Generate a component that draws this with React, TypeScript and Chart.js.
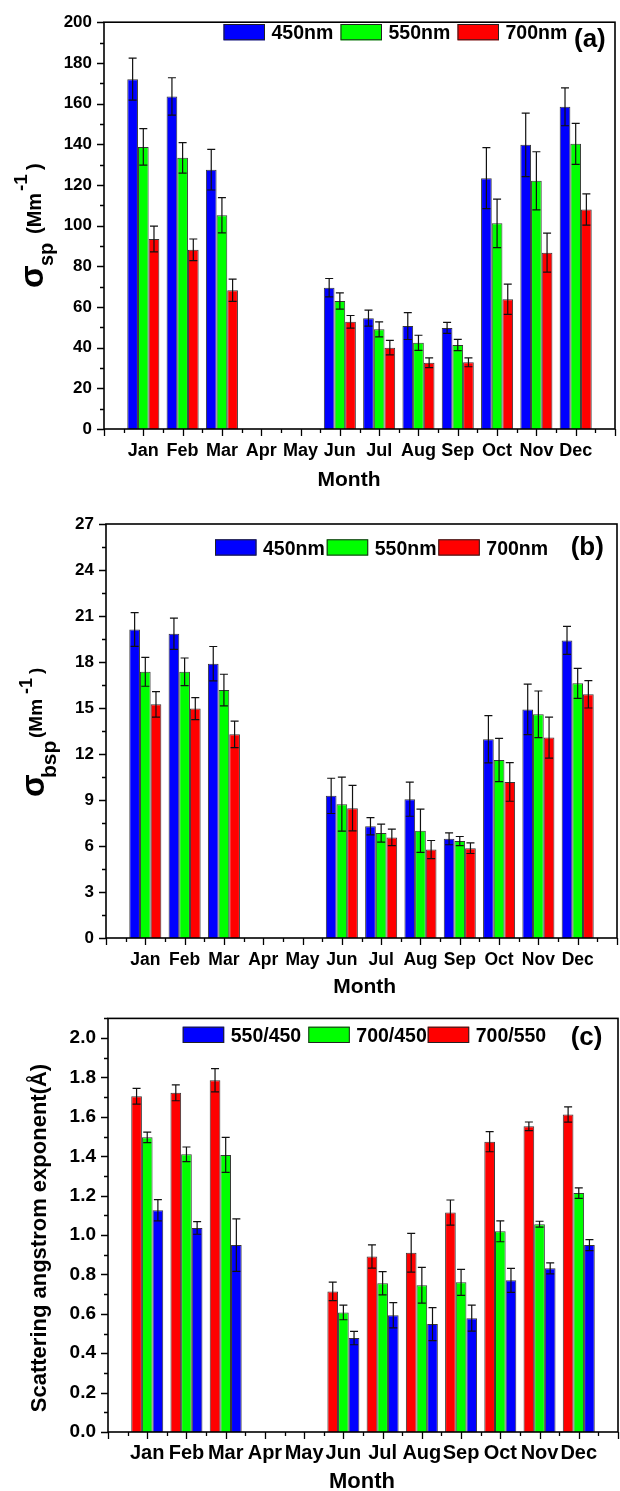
import React, { useEffect, useRef } from 'react';
import { Chart, registerables } from 'chart.js';

Chart.register(...registerables);

const FONT = "'Liberation Sans', Arial, Helvetica, sans-serif";

const MONTHS = ['Jan', 'Feb', 'Mar', 'Apr', 'May', 'Jun', 'Jul', 'Aug', 'Sep', 'Oct', 'Nov', 'Dec'];

const BLUE = '#0000ff';
const GREEN = '#00ff00';
const RED = '#ff0000';

// (a) scattering coefficient σsp (Mm-1), monthly mean and standard error
const SP_450 = [172.0, 163.5, 127.5, null, null, 69.5, 54.5, 50.6, 49.7, 123.3, 139.7, 158.4];
const SP_450_ERR = [10.3, 9.2, 10.0, null, null, 4.5, 3.9, 6.6, 2.7, 15.0, 15.6, 9.3];
const SP_550 = [138.7, 133.3, 105.1, null, null, 62.9, 49.0, 42.4, 41.3, 101.1, 122.0, 140.2];
const SP_550_ERR = [9.0, 7.5, 8.7, null, null, 4.0, 3.7, 3.7, 2.8, 11.9, 14.3, 10.1];
const SP_700 = [93.4, 88.1, 68.2, null, null, 52.7, 40.0, 32.6, 32.8, 63.8, 86.7, 107.9];
const SP_700_ERR = [6.3, 5.3, 5.5, null, null, 3.1, 3.6, 2.4, 2.2, 7.4, 9.6, 7.7];

// (b) backscattering coefficient σbsp (Mm-1)
const BSP_450 = [20.12, 19.84, 17.89, null, null, 9.27, 7.29, 9.05, 6.47, 12.96, 14.91, 19.41];
const BSP_450_ERR = [1.1, 1.02, 1.12, null, null, 1.15, 0.56, 1.11, 0.39, 1.54, 1.65, 0.91];
const BSP_550 = [17.36, 17.36, 16.17, null, null, 8.73, 6.84, 6.99, 6.32, 11.61, 14.59, 16.61];
const BSP_550_ERR = [0.94, 0.9, 1.03, null, null, 1.76, 0.59, 1.41, 0.3, 1.41, 1.52, 0.98];
const BSP_700 = [15.24, 14.96, 13.28, null, null, 8.47, 6.56, 5.77, 5.86, 10.18, 13.07, 15.89];
const BSP_700_ERR = [0.83, 0.72, 0.87, null, null, 1.48, 0.54, 0.59, 0.35, 1.26, 1.34, 0.89];

// (c) scattering Angstrom exponent for three wavelength pairs
const AE_700_550 = [1.705, 1.722, 1.786, null, null, 0.714, 0.891, 0.91, 1.114, 1.474, 1.552, 1.612];
const AE_700_550_ERR = [0.04, 0.04, 0.059, null, null, 0.047, 0.059, 0.098, 0.064, 0.051, 0.022, 0.039];
const AE_700_450 = [1.496, 1.41, 1.407, null, null, 0.607, 0.755, 0.745, 0.76, 1.019, 1.055, 1.213];
const AE_700_450_ERR = [0.027, 0.037, 0.089, null, null, 0.037, 0.059, 0.091, 0.066, 0.053, 0.015, 0.027];
const AE_550_450 = [1.126, 1.036, 0.949, null, null, 0.477, 0.593, 0.548, 0.578, 0.77, 0.831, 0.949];
const AE_550_450_ERR = [0.054, 0.032, 0.133, null, null, 0.034, 0.064, 0.084, 0.066, 0.061, 0.028, 0.028];

type Val = number | null;

interface Series {
  label: string;
  values: Val[];
  errors: Val[];
  color: string;
}

interface TitlePiece {
  text: string;
  size: number;
  base: number; // x of the rotated baseline
  start?: number; // y where the text begins (it runs upward)
  center?: number; // or y of its middle
}

interface PanelSpec {
  id: string;
  top: number;
  height: number;
  area: { left: number; top: number; right: number; bottom: number };
  yMax: number;
  yMajor: number;
  yMinor: number;
  decimals: number;
  yTickSize: number;
  xTickSize: number;
  xTickPad: number;
  series: Series[];
  legendOrder: number[];
  legendX: number[];
  legendTop: number;
  legendSize: number;
  letter: string;
  letterX: number;
  letterBase: number;
  monthX: number;
  monthBase: number;
  monthSize: number;
  yTitle: TitlePiece[];
}

const PANELS: PanelSpec[] = [
  {
    id: 'a',
    top: 0,
    height: 495,
    area: { left: 104, top: 15, right: 615, bottom: 429 },
    yMax: 200,
    yMajor: 20,
    yMinor: 10,
    decimals: 0,
    yTickSize: 17,
    xTickSize: 18,
    xTickPad: 11.3,
    series: [
      { label: '450nm', values: SP_450, errors: SP_450_ERR, color: BLUE },
      { label: '550nm', values: SP_550, errors: SP_550_ERR, color: GREEN },
      { label: '700nm', values: SP_700, errors: SP_700_ERR, color: RED },
    ],
    legendOrder: [0, 1, 2],
    legendX: [223.5, 340.5, 457.5],
    legendTop: 24,
    legendSize: 19.5,
    letter: '(a)',
    letterX: 574,
    letterBase: 47,
    monthX: 349,
    monthBase: 486,
    monthSize: 21,
    yTitle: [
      { text: 'σ', size: 33, base: 43, start: 288 },
      { text: 'sp', size: 20, base: 52.5, start: 266 },
      { text: '(Mm', size: 20, base: 41, start: 234 },
      { text: '-1', size: 19, base: 27, start: 191 },
      { text: ')', size: 20, base: 41, start: 170 },
    ],
  },
  {
    id: 'b',
    top: 495,
    height: 500,
    area: { left: 106, top: 29, right: 617, bottom: 443 },
    yMax: 27,
    yMajor: 3,
    yMinor: 1.5,
    decimals: 0,
    yTickSize: 17,
    xTickSize: 17.5,
    xTickPad: 12.1,
    series: [
      { label: '450nm', values: BSP_450, errors: BSP_450_ERR, color: BLUE },
      { label: '550nm', values: BSP_550, errors: BSP_550_ERR, color: GREEN },
      { label: '700nm', values: BSP_700, errors: BSP_700_ERR, color: RED },
    ],
    legendOrder: [0, 1, 2],
    legendX: [215, 326.7, 438.3],
    legendTop: 44.3,
    legendSize: 19.5,
    letter: '(b)',
    letterX: 570.7,
    letterBase: 60,
    monthX: 364.7,
    monthBase: 498,
    monthSize: 21,
    yTitle: [
      { text: 'σ', size: 33, base: 43.5, start: 302 },
      { text: 'bsp', size: 21, base: 56, start: 283 },
      { text: '(Mm', size: 19, base: 42, start: 243 },
      { text: '-1', size: 18, base: 32, start: 199 },
      { text: ')', size: 19, base: 42, start: 179 },
    ],
  },
  {
    id: 'c',
    top: 995,
    height: 496,
    area: { left: 108, top: 21, right: 618, bottom: 437 },
    yMax: 2.1,
    yMajor: 0.2,
    yMinor: 0.1,
    decimals: 1,
    yTickSize: 19,
    xTickSize: 20,
    xTickPad: 9.1,
    series: [
      { label: '700/550', values: AE_700_550, errors: AE_700_550_ERR, color: RED },
      { label: '700/450', values: AE_700_450, errors: AE_700_450_ERR, color: GREEN },
      { label: '550/450', values: AE_550_450, errors: AE_550_450_ERR, color: BLUE },
    ],
    legendOrder: [2, 1, 0],
    legendX: [182.7, 308.3, 427.7],
    legendTop: 31.7,
    legendSize: 19.5,
    letter: '(c)',
    letterX: 570.7,
    letterBase: 49.5,
    monthX: 362,
    monthBase: 493,
    monthSize: 22,
    yTitle: [{ text: 'Scattering angstrom exponent(Å)', size: 22, base: 46, center: 243 }],
  },
];

const bold = (size: number) => `bold ${size}px ${FONT}`;

function makeDecor(p: PanelSpec) {
  return {
    id: `decor-${p.id}`,
    afterDatasetsDraw(chart: any) {
      const ctx: CanvasRenderingContext2D = chart.ctx;
      const y = chart.scales.y;
      ctx.save();
      ctx.strokeStyle = '#111';
      ctx.lineWidth = 1.2;
      chart.data.datasets.forEach((ds: any, d: number) => {
        const meta = chart.getDatasetMeta(d);
        meta.data.forEach((el: any, i: number) => {
          const raw = ds.data[i];
          if (!raw || raw.err == null) return;
          const x = el.x;
          const hi = y.getPixelForValue(raw.y + raw.err);
          const lo = y.getPixelForValue(raw.y - raw.err);
          ctx.beginPath();
          ctx.moveTo(x, hi);
          ctx.lineTo(x, lo);
          ctx.moveTo(x - 4, hi);
          ctx.lineTo(x + 4, hi);
          ctx.moveTo(x - 4, lo);
          ctx.lineTo(x + 4, lo);
          ctx.stroke();
        });
      });
      ctx.restore();
    },
    afterDraw(chart: any) {
      const ctx: CanvasRenderingContext2D = chart.ctx;
      const { left, top, right, bottom } = chart.chartArea;
      const xs = chart.scales.x;
      const ys = chart.scales.y;
      ctx.save();

      // axis frame
      ctx.strokeStyle = '#000';
      ctx.lineWidth = 1.6;
      ctx.strokeRect(left, top, right - left, bottom - top);

      // y ticks, outward, major and minor
      ctx.lineWidth = 1.3;
      ctx.beginPath();
      const nMinor = Math.round(p.yMax / p.yMinor);
      for (let k = 0; k <= nMinor; k++) {
        const v = k * p.yMinor;
        const isMajor = Math.abs(v / p.yMajor - Math.round(v / p.yMajor)) < 1e-6;
        const py = Math.round(ys.getPixelForValue(v)) + 0.5;
        ctx.moveTo(left, py);
        ctx.lineTo(left - (isMajor ? 7 : 4), py);
      }
      // x ticks, outward, months major and half-months minor
      for (let k = 0; k <= 26; k++) {
        const v = k / 2;
        const isMajor = k % 2 === 0;
        const px = Math.round(xs.getPixelForValue(v)) + 0.5;
        ctx.moveTo(px, bottom);
        ctx.lineTo(px, bottom + (isMajor ? 7 : 4));
      }
      ctx.stroke();

      // legend inside the plot
      ctx.fillStyle = '#000';
      ctx.textBaseline = 'alphabetic';
      ctx.textAlign = 'left';
      p.legendOrder.forEach((d, k) => {
        const s = p.series[d];
        const bx = p.legendX[k];
        ctx.fillStyle = s.color;
        ctx.fillRect(bx, p.legendTop, 41.5, 16.3);
        ctx.strokeStyle = '#222';
        ctx.lineWidth = 1;
        ctx.strokeRect(bx + 0.5, p.legendTop + 0.5, 40.5, 15.3);
        ctx.fillStyle = '#000';
        ctx.font = bold(p.legendSize);
        ctx.fillText(s.label, bx + 48, p.legendTop + 15.2);
      });

      // panel letter
      ctx.font = bold(26);
      ctx.fillText(p.letter, p.letterX, p.letterBase);

      // x axis title
      ctx.textAlign = 'center';
      ctx.font = bold(p.monthSize);
      ctx.fillText('Month', p.monthX, p.monthBase);

      // y axis title, rotated
      ctx.textAlign = 'left';
      p.yTitle.forEach((t) => {
        ctx.font = bold(t.size);
        let start = t.start ?? 0;
        if (t.center != null) start = t.center + ctx.measureText(t.text).width / 2;
        ctx.save();
        ctx.translate(t.base, start);
        ctx.rotate(-Math.PI / 2);
        ctx.fillText(t.text, 0, 0);
        ctx.restore();
      });

      ctx.restore();
    },
  };
}

function Panel({ p }: { p: PanelSpec }) {
  const ref = useRef<HTMLCanvasElement>(null);

  useEffect(() => {
    const canvas = ref.current;
    if (!canvas) return;
    const datasets = p.series.map((s) => ({
      label: s.label,
      data: s.values
        .map((v, i) => (v == null ? null : { x: i + 1, y: v, err: s.errors[i] }))
        .filter((d) => d != null),
      backgroundColor: s.color,
      borderColor: 'rgba(20,20,20,0.85)',
      borderWidth: 1,
      categoryPercentage: 0.815,
      barPercentage: 1,
    }));

    const majorTicks: { value: number }[] = [];
    const nMajor = Math.round(p.yMax / p.yMajor);
    for (let k = 0; k <= nMajor; k++) {
      const v = k * p.yMajor;
      if (v <= p.yMax + 1e-9) majorTicks.push({ value: v });
    }

    const chart = new Chart(canvas, {
      type: 'bar',
      data: { datasets: datasets as any },
      options: {
        responsive: false,
        animation: false,
        devicePixelRatio: 1,
        events: [],
        layout: {
          padding: { top: p.area.top, right: 620 - p.area.right, left: 0, bottom: 0 },
        },
        plugins: {
          legend: { display: false },
          tooltip: { enabled: false },
        },
        scales: {
          x: {
            type: 'linear',
            min: 0,
            max: 13,
            offset: false,
            grid: { display: false, drawTicks: false, offset: false },
            border: { display: false },
            afterBuildTicks: (scale: any) => {
              scale.ticks = MONTHS.map((_, i) => ({ value: i + 1 }));
            },
            afterFit: (scale: any) => {
              scale.height = p.height - p.area.bottom;
            },
            ticks: {
              autoSkip: false,
              maxRotation: 0,
              minRotation: 0,
              padding: p.xTickPad,
              color: '#000',
              font: { family: FONT, size: p.xTickSize, weight: 'bold' },
              callback: (v: any) => MONTHS[Math.round(Number(v)) - 1] ?? '',
            },
          },
          y: {
            type: 'linear',
            min: 0,
            max: p.yMax,
            grid: { display: false, drawTicks: false },
            border: { display: false },
            afterBuildTicks: (scale: any) => {
              scale.ticks = majorTicks.map((t) => ({ ...t }));
            },
            afterFit: (scale: any) => {
              scale.width = p.area.left;
            },
            ticks: {
              autoSkip: false,
              padding: 12,
              color: '#000',
              font: { family: FONT, size: p.yTickSize, weight: 'bold' },
              callback: (v: any) => Number(v).toFixed(p.decimals),
            },
          },
        },
      } as any,
      plugins: [makeDecor(p)],
    });
    return () => chart.destroy();
  }, [p]);

  return (
    <canvas
      ref={ref}
      width={620}
      height={p.height}
      style={{ position: 'absolute', left: 0, top: p.top, width: 620, height: p.height, display: 'block' }}
    />
  );
}

export default function App() {
  return (
    <div style={{ position: 'absolute', left: 0, top: 0, width: 620, height: 1491, background: '#fff' }}>
      {PANELS.map((p) => (
        <Panel key={p.id} p={p} />
      ))}
    </div>
  );
}
